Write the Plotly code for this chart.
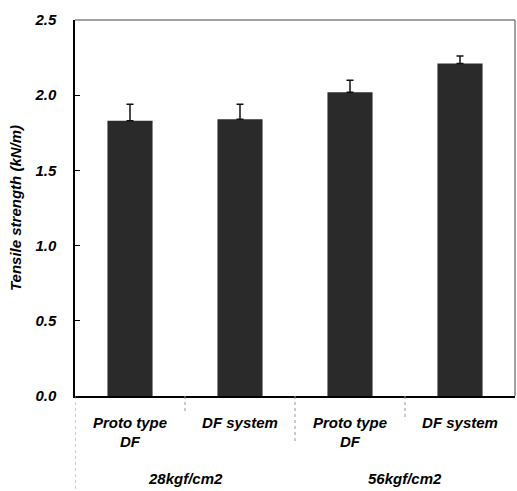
import plotly.graph_objects as go

categories = ["Proto type<br>DF", "DF system", "Proto type<br>DF", "DF system"]
groups = ["28kgf/cm2", "56kgf/cm2"]
values = [1.83, 1.84, 2.02, 2.21]
errors = [0.11, 0.10, 0.08, 0.05]
y_ticks = [0.0, 0.5, 1.0, 1.5, 2.0, 2.5]
y_tick_labels = ["0.0", "0.5", "1.0", "1.5", "2.0", "2.5"]

xpos = list(range(len(categories)))
font_family = "Liberation Sans, Arial, sans-serif"

fig = go.Figure()
fig.add_trace(go.Bar(
    x=xpos, y=values,
    marker=dict(color="#2a2a2a", line=dict(width=0)),
    width=0.41,
    error_y=dict(type="data", array=errors, arrayminus=[0]*len(errors), symmetric=False,
                 color="#111111", thickness=1.5, width=3.5),
))

# outer group labels
for gi, g in enumerate(groups):
    fig.add_annotation(x=gi*2 + 0.5, y=0, yref="paper", xref="x", yshift=-93,
                       text="<b><i>%s</i></b>" % g, showarrow=False,
                       font=dict(family=font_family, size=15, color="black"))

# dividers
div_specs = [(-0.5, -0.26), (0.5, -0.04), (1.5, -0.12), (2.5, -0.06)]
for xv, y0 in div_specs:
    fig.add_shape(type="line", xref="x", yref="paper", x0=xv, x1=xv, y0=0, y1=y0,
                  line=dict(color="#999999", width=1, dash="dot"))

fig.update_layout(
    width=517, height=491,
    margin=dict(l=75, r=2, t=20, b=95),
    plot_bgcolor="white", paper_bgcolor="white",
    showlegend=False,
    bargap=0.59,
    font=dict(family=font_family, color="black"),
    xaxis=dict(
        range=[-0.5, 3.5], tickmode="array", tickvals=xpos,
        ticktext=["<b><i>%s</i></b>" % c for c in categories],
        tickfont=dict(size=15, family=font_family, color="black"),
        ticklabelstandoff=12,
        showline=True, linecolor="black", linewidth=1.5, mirror=False,
        ticks="", showgrid=False, zeroline=False,
    ),
    yaxis=dict(
        range=[0, 2.5], tickmode="array", tickvals=y_ticks,
        ticktext=["<b><i>%s</i></b>" % t for t in y_tick_labels],
        tickfont=dict(size=15, family=font_family, color="black"),
        ticks="inside", ticklen=5, tickcolor="black",
        ticklabelstandoff=14,
        showline=True, linecolor="black", linewidth=1.5,
        showgrid=False, zeroline=False,
        title=dict(text="<b><i>Tensile strength (kN/m)</i></b>",
                   font=dict(size=15, family=font_family, color="black"), standoff=9),
    ),
)
# top and right border (thin)
fig.add_shape(type="line", xref="paper", yref="paper", x0=0, x1=1, y0=1, y1=1,
              line=dict(color="#444444", width=1))
fig.add_shape(type="line", xref="paper", yref="paper", x0=1, x1=1, y0=0, y1=1,
              line=dict(color="#444444", width=1))

fig.write_html("out.html")
